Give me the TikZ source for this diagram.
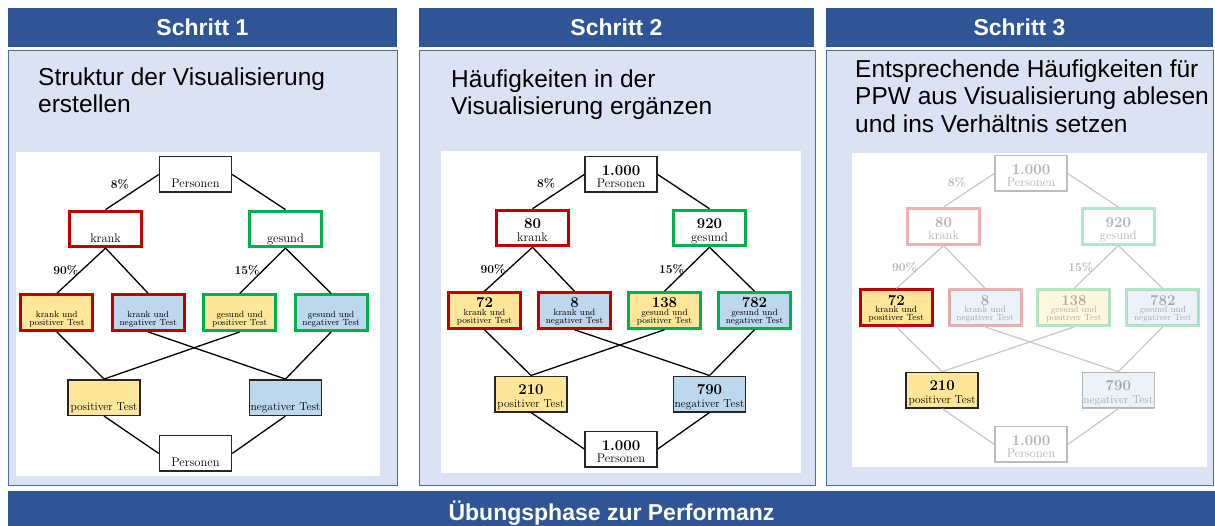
\documentclass[tikz,border=0pt]{standalone}
\usepackage{fontspec}
\newfontfamily\arial{Liberation Sans}

\definecolor{kopf}{HTML}{2F5597}
\definecolor{feld}{HTML}{DAE3F3}
\definecolor{rot}{HTML}{C00000}
\definecolor{gruen}{HTML}{00B050}
\definecolor{gelb}{HTML}{FFE699}
\definecolor{hblau}{HTML}{BDD7EE}

\newcommand{\zahl}[1]{{\bfseries\fontsize{15}{15}\selectfont\vphantom{0}#1}}
\newcommand{\engzeilen}{\fontsize{9}{7.8}\selectfont\setlength{\lineskiplimit}{-5pt}}

\tikzset{
  kopfzeile/.style={fill=kopf, text=white, inner sep=0pt, minimum height=39pt,
    font=\arial\bfseries\fontsize{23}{26}\selectfont},
  feld/.style={fill=feld, draw=kopf!85, line width=1pt, minimum height=434pt},
  flaeche/.style={fill=white, inner sep=0pt},
  aufgabe/.style={anchor=north west, inner sep=0pt, align=left,
    font=\arial\fontsize{24.5}{27.5}\selectfont},
  knoten/.style={draw=black!85, line width=1.5pt, fill=white, minimum width=72pt,
    minimum height=35.5pt, inner sep=0pt, align=center,
    text height=31pt, text depth=4pt, font=\fontsize{12.5}{12.5}\selectfont},
  krank/.style={knoten, draw=rot, line width=3pt},
  gesund/.style={knoten, draw=gruen, line width=3pt},
  positiv/.style={fill=gelb},
  negativ/.style={fill=hblau},
  klein/.style={font=\engzeilen, text height=30pt},
  test/.style={font=\fontsize{11.5}{12.5}\selectfont, text height=30pt},
  ast/.style={line width=1.3pt},
  prozent/.style={font=\bfseries\fontsize{12}{12}\selectfont, inner sep=2.5pt},
  blass/.style={opacity=0.3}
}

\begin{document}
\begin{tikzpicture}[x=1pt, y=-1pt]
\useasboundingbox (0,0) rectangle (1215,526);

% Kopfzeilen und Felder
\node[kopfzeile, minimum width=389pt] at (202.5,27.5) (schritt1) {Schritt 1};
\node[kopfzeile, minimum width=395pt] at (616.5,27.5) (schritt2) {Schritt 2};
\node[kopfzeile, minimum width=387pt] at (1019.5,27.5) (schritt3) {Schritt 3};

\node[feld, minimum width=389pt] at (202.5,268) (feld1) {};
\node[feld, minimum width=396pt] at (617,268) (feld2) {};
\node[feld, minimum width=387pt] at (1019.5,268) (feld3) {};

\node[flaeche, minimum width=364pt, minimum height=324pt] at (198,314) (flaeche1) {};
\node[flaeche, minimum width=360pt, minimum height=322pt] at (621,312) (flaeche2) {};
\node[flaeche, minimum width=355pt, minimum height=314pt] at (1029.5,310) (flaeche3) {};

\node[aufgabe] at (38,67.5) (aufgabe1) {Struktur der Visualisierung\\erstellen};
\node[aufgabe] at (451,69.5) (aufgabe2) {H\"aufigkeiten in der\\Visualisierung erg\"anzen};
\node[aufgabe] at (855,59.5) (aufgabe3) {Entsprechende H\"aufigkeiten f\"ur\\PPW aus Visualisierung ablesen\\und ins Verh\"altnis setzen};

\node[kopfzeile, minimum width=1207pt, minimum height=44pt] at (611.5,513) (uebung) {\"Ubungsphase zur Performanz};

% Schritt 1: Struktur
\begin{scope}[shift={(195.5,174.5)}, scale=1.016]
  \node[knoten] at (0,0) (o1) {\zahl{}\\Personen};
  \node[krank] at (-88.5,53.5) (k1) {\zahl{}\\krank};
  \node[gesund] at (88.5,53.5) (g1) {\zahl{}\\gesund};
  \node[krank, positiv, klein] at (-136.5,136) (kp1) {\zahl{}\\krank und\\positiver Test};
  \node[krank, negativ, klein] at (-46.5,136) (kn1) {\zahl{}\\krank und\\negativer Test};
  \node[gesund, positiv, klein] at (43.5,136) (gp1) {\zahl{}\\gesund und\\positiver Test};
  \node[gesund, negativ, klein] at (133.5,136) (gn1) {\zahl{}\\gesund und\\negativer Test};
  \node[knoten, positiv, test] at (-90,219.5) (pt1) {\zahl{}\\positiver Test};
  \node[knoten, negativ, test] at (88.5,219.5) (nt1) {\zahl{}\\negativer Test};
  \node[knoten] at (0,274.5) (u1) {\zahl{}\\Personen};

  \draw[ast] (o1.west) -- (k1.north) node[midway, above left, prozent] {8\%};
  \draw[ast] (o1.east) -- (g1.north);
  \draw[ast] (k1.south) -- (kp1.north) node[midway, left, prozent] {90\%};
  \draw[ast] (k1.south) -- (kn1.north);
  \draw[ast] (g1.south) -- (gp1.north) node[midway, left, prozent] {15\%};
  \draw[ast] (g1.south) -- (gn1.north);
  \foreach \a/\b in {kp1/pt1, gp1/pt1, kn1/nt1, gn1/nt1}
    \draw[ast] (\a.south) -- (\b.north);
  \draw[ast] (pt1.south) -- (u1.west);
  \draw[ast] (nt1.south) -- (u1.east);
\end{scope}

% Schritt 2: Haeufigkeiten
\begin{scope}[shift={(621,174.5)}]
  \node[knoten] at (0,0) (o2) {\zahl{1.000}\\Personen};
  \node[krank] at (-88.5,53.5) (k2) {\zahl{80}\\krank};
  \node[gesund] at (88.5,53.5) (g2) {\zahl{920}\\gesund};
  \node[krank, positiv, klein] at (-136.5,136) (kp2) {\zahl{72}\\krank und\\positiver Test};
  \node[krank, negativ, klein] at (-46.5,136) (kn2) {\zahl{8}\\krank und\\negativer Test};
  \node[gesund, positiv, klein] at (43.5,136) (gp2) {\zahl{138}\\gesund und\\positiver Test};
  \node[gesund, negativ, klein] at (133.5,136) (gn2) {\zahl{782}\\gesund und\\negativer Test};
  \node[knoten, positiv, test] at (-90,219.5) (pt2) {\zahl{210}\\positiver Test};
  \node[knoten, negativ, test] at (88.5,219.5) (nt2) {\zahl{790}\\negativer Test};
  \node[knoten] at (0,274.5) (u2) {\zahl{1.000}\\Personen};

  \draw[ast] (o2.west) -- (k2.north) node[midway, above left, prozent] {8\%};
  \draw[ast] (o2.east) -- (g2.north);
  \draw[ast] (k2.south) -- (kp2.north) node[midway, left, prozent] {90\%};
  \draw[ast] (k2.south) -- (kn2.north);
  \draw[ast] (g2.south) -- (gp2.north) node[midway, left, prozent] {15\%};
  \draw[ast] (g2.south) -- (gn2.north);
  \foreach \a/\b in {kp2/pt2, gp2/pt2, kn2/nt2, gn2/nt2}
    \draw[ast] (\a.south) -- (\b.north);
  \draw[ast] (pt2.south) -- (u2.west);
  \draw[ast] (nt2.south) -- (u2.east);
\end{scope}

% Schritt 3: ablesen
\begin{scope}[shift={(1031,173.5)}, scale=0.987,
    ast/.style={line width=1.2pt, draw=black!22}, prozent/.append style={blass}]
  \node[knoten, blass] at (0,0) (o3) {\zahl{1.000}\\Personen};
  \node[krank, blass] at (-88.5,53.5) (k3) {\zahl{80}\\krank};
  \node[gesund, blass] at (88.5,53.5) (g3) {\zahl{920}\\gesund};
  \node[krank, positiv, klein] at (-136.5,136) (kp3) {\zahl{72}\\krank und\\positiver Test};
  \node[krank, negativ, klein, blass] at (-46.5,136) (kn3) {\zahl{8}\\krank und\\negativer Test};
  \node[gesund, positiv, klein, blass] at (43.5,136) (gp3) {\zahl{138}\\gesund und\\positiver Test};
  \node[gesund, negativ, klein, blass] at (133.5,136) (gn3) {\zahl{782}\\gesund und\\negativer Test};
  \node[knoten, positiv, test] at (-90,219.5) (pt3) {\zahl{210}\\positiver Test};
  \node[knoten, negativ, test, blass] at (88.5,219.5) (nt3) {\zahl{790}\\negativer Test};
  \node[knoten, blass] at (0,274.5) (u3) {\zahl{1.000}\\Personen};

  \draw[ast] (o3.west) -- (k3.north) node[midway, above left, prozent] {8\%};
  \draw[ast] (o3.east) -- (g3.north);
  \draw[ast] (k3.south) -- (kp3.north) node[midway, left, prozent] {90\%};
  \draw[ast] (k3.south) -- (kn3.north);
  \draw[ast] (g3.south) -- (gp3.north) node[midway, left, prozent] {15\%};
  \draw[ast] (g3.south) -- (gn3.north);
  \foreach \a/\b in {kp3/pt3, gp3/pt3, kn3/nt3, gn3/nt3}
    \draw[ast] (\a.south) -- (\b.north);
  \draw[ast] (pt3.south) -- (u3.west);
  \draw[ast] (nt3.south) -- (u3.east);
\end{scope}
\end{tikzpicture}
\end{document}
